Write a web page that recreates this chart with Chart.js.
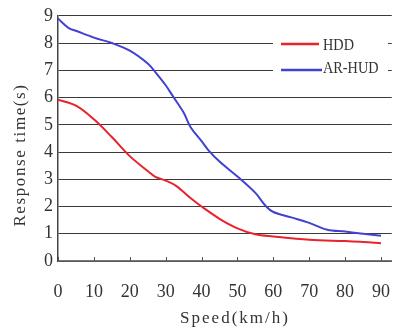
<!DOCTYPE html>
<html>
<head>
<meta charset="utf-8">
<script src="https://cdn.jsdelivr.net/npm/chart.js@4"></script>
<style>
  html, body { margin: 0; padding: 0; background: #fff; }
  canvas { display: block; }
</style>
</head>
<body>
<canvas id="lineChart" width="402" height="334"></canvas>
<script>
// values
var hddSpeed = [0, 5, 10, 15, 20, 25, 27, 30, 33, 37, 40, 45, 50, 55, 60, 70, 80, 85, 90];
var hddTime  = [5.92, 5.7, 5.2, 4.55, 3.85, 3.3, 3.1, 2.95, 2.75, 2.3, 2.0, 1.55, 1.2, 0.98, 0.9, 0.78, 0.73, 0.7, 0.65];

var hudSpeed = [0, 3, 5, 10, 15, 20, 25, 27, 30, 32, 35, 37, 40, 42, 45, 50, 55, 58, 60, 65, 70, 75, 80, 85, 90];
var hudTime  = [8.9, 8.55, 8.45, 8.2, 8.0, 7.72, 7.25, 6.95, 6.45, 6.05, 5.45, 4.9, 4.4, 4.05, 3.65, 3.1, 2.5, 2.0, 1.8, 1.6, 1.4, 1.15, 1.08, 1.0, 0.93];

var seriesNames = ['HDD', 'AR-HUD'];
var xTitle = 'Speed(km/h)';
var yTitle = 'Response time(s)';

function toPoints(xs, ys) {
    return xs.map(function(x, i) { return {x: x, y: ys[i]}; });
}

// axis titles, inside tick marks and the boxed legend
var decor = {
    id: 'decor',
    afterDraw: function(chart) {
        var ctx = chart.ctx;
        var xs = chart.scales.x;
        var area = chart.chartArea;
        ctx.save();

        // small tick marks pointing into the plot
        ctx.strokeStyle = '#555';
        ctx.lineWidth = 1;
        xs.ticks.forEach(function(t) {
            var px = Math.round(xs.getPixelForValue(t.value)) + 0.5;
            ctx.beginPath();
            ctx.moveTo(px, area.bottom);
            ctx.lineTo(px, area.bottom - 4);
            ctx.stroke();
        });

        ctx.fillStyle = '#333';
        ctx.font = '17px "Liberation Serif"';
        ctx.letterSpacing = '2px';
        ctx.textAlign = 'center';
        ctx.textBaseline = 'middle';
        ctx.fillText(xTitle, 235, 319);
        ctx.translate(21, 155);
        ctx.rotate(-Math.PI / 2);
        ctx.letterSpacing = '1.6px';
        ctx.fillText(yTitle, 0, 0);
        ctx.restore();

        // legend
        ctx.save();
        ctx.fillStyle = '#fff';
        ctx.fillRect(273, 36, 115, 44);
        var rows = [44, 70];
        chart.data.datasets.forEach(function(ds, i) {
            ctx.strokeStyle = ds.borderColor;
            ctx.lineWidth = 2.5;
            ctx.beginPath();
            ctx.moveTo(281, rows[i]);
            ctx.lineTo(i === 0 ? 319 : 322, rows[i]);
            ctx.stroke();
            ctx.save();
            ctx.translate(323, rows[i] + (i === 0 ? 2 : -1));
            ctx.scale(0.84, 1);
            ctx.fillStyle = '#333';
            ctx.font = '17px "Liberation Serif"';
            ctx.textAlign = 'left';
            ctx.textBaseline = 'middle';
            ctx.fillText(ds.label, 0, 0);
            ctx.restore();
        });
        ctx.restore();
    }
};

var ctx = document.getElementById('lineChart').getContext('2d');

var myChart = new Chart(ctx, {
    type: 'line',
    data: {
        datasets: [{
            label: seriesNames[0],
            data: toPoints(hddSpeed, hddTime),
            borderColor: '#e8232b',
            borderWidth: 2,
            pointRadius: 0,
            tension: 0.35,
            fill: false
        }, {
            label: seriesNames[1],
            data: toPoints(hudSpeed, hudTime),
            borderColor: '#4141d2',
            borderWidth: 2,
            pointRadius: 0,
            tension: 0.35,
            fill: false
        }]
    },
    options: {
        responsive: false,
        animation: false,
        layout: { padding: { top: 14, left: 0, right: 0, bottom: 0 } },
        plugins: {
            legend: { display: false },
            tooltip: { enabled: false }
        },
        scales: {
            x: {
                type: 'linear',
                min: 0,
                max: 93,
                afterFit: function(s) { s.height = 73; },
                grid: { display: false },
                border: { display: true, color: '#777', width: 1.5 },
                ticks: {
                    stepSize: 10,
                    includeBounds: false,
                    maxRotation: 0,
                    padding: 12,
                    color: '#333',
                    font: { family: '"Liberation Serif"', size: 18 }
                }
            },
            y: {
                min: 0,
                max: 9,
                afterFit: function(s) { s.width = 58; },
                grid: { color: '#3a3a3a', lineWidth: 1, drawTicks: false },
                border: { display: true, color: '#444', width: 1.5 },
                ticks: {
                    stepSize: 1,
                    padding: 5,
                    color: '#333',
                    font: { family: '"Liberation Serif"', size: 18 }
                }
            }
        }
    },
    plugins: [decor]
});
</script>
</body>
</html>
